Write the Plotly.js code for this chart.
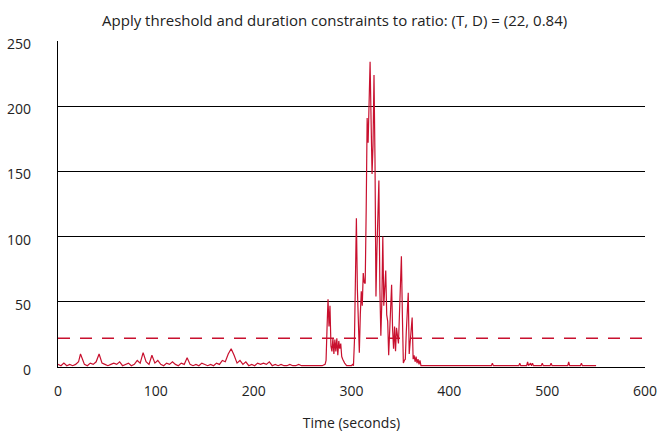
<!DOCTYPE html>
<html><head><meta charset="utf-8">
<script src="https://cdn.plot.ly/plotly-3.0.1.min.js"></script>
<style>html,body{margin:0;padding:0;background:#fff}</style>
</head><body><div id="chart" style="width:660px;height:432px"></div>
<script>
const chartTitle = "Apply threshold and duration constraints to ratio: (T, D) = (22, 0.84)";
const xTitle = "Time (seconds)";
const threshold = 22;
const xRange = [0, 600];
const yRange = [0, 250];
const xTicks = [0, 100, 200, 300, 400, 500, 600];
const yTicks = [0, 50, 100, 150, 200, 250];

const timeQuiet = [0,3,6,9,12,15,18,21,23,27,30,33,36,39,42,45,48,51,54,57,60,63,66,69,72,75,78,81,84,87,90,93,96,99,102,105,108,111,114,117,120,123,126,129,132,135,138,141,144,147,150,153,156,159,162,165,168,171,174,177,180,183,186,189,192,195,198,201,204,207,210,213,216,219,222,225,228,231,234,237,240,243,246,249,252,255,258,261,264,267,270,273];
const ratioQuiet = [2,1,3,1,2,1,2,4,10,2,1,3,2,4,10,3,2,1,2,3,2,4,1,2,3,1,2,5,3,11,4,2,9,3,5,2,1,3,2,4,2,1,3,2,7,2,1,2,1,3,2,1,2,1,3,2,5,4,10,14,9,3,5,2,4,1,2,1,3,2,3,2,4,1,2,1,2,1,1,2,1,1,2,1,1,1,1,1,1,1,1,2];

const timeActive = [274,275,276,277,278,279,280,281,282,283,284,285,286,287,288,289,290,291,292,293,294,295,296,297,298,299,300,301,302,303,304,305,306,307,308,309,310,311,312,313,314,315,316,317,318,319,320,321,322,323,324,325,326,327,328,329,330,331,332,333,334,335,336,337,338,339,340,341,342,343,344,345,346,347,348,349,350,351,352,353,354,355,356,357,358,359,360,361,362,363,364,365,366,367,368,369,370,371,372];
const ratioActive = [5,30,52,31,47,16,12,22,10,21,12,22,9,20,14,18,8,6,4,3,2,1,1,1,1,1,1,2,1,20,70,114,60,30,11,40,58,47,72,65,64,120,191,172,200,234,190,148,170,224,160,54,90,120,143,60,24,50,100,47,60,74,40,35,9,30,45,63,29,14,31,12,30,22,18,40,60,85,40,3,5,6,27,45,57,10,20,30,38,6,9,4,8,3,6,2,5,1,1];

const timeTail = [380,390,400,410,420,430,440,443,444,445,460,471,472,473,479,480,481,483,484,485,486,494,495,496,503,504,505,521,522,523,534,535,536,550];
const ratioTail = [1,1,1,1,1,1,1,1,3,1,1,1,3,1,1,4,1,3,1,3,1,1,3,1,1,3,1,1,4,1,1,3,1,1];

const times = timeQuiet.concat(timeActive, timeTail);
const ratio = ratioQuiet.concat(ratioActive, ratioTail);

const red = '#c8102e';
const font = "'Open Sans', sans-serif";

Plotly.newPlot('chart', [
  {x: times, y: ratio, type: 'scatter', mode: 'lines', line: {color: red, width: 1.2}, hoverinfo: 'skip'},
  {x: xRange, y: [threshold, threshold], type: 'scatter', mode: 'lines', line: {color: red, width: 1.5, dash: '12px,10px'}, hoverinfo: 'skip'}
], {
  width: 660, height: 432,
  margin: {l: 58, r: 15, t: 41, b: 65},
  showlegend: false,
  paper_bgcolor: '#fff', plot_bgcolor: '#fff',
  font: {family: font, size: 14, color: '#222'},
  title: {text: chartTitle, x: 0.507, xanchor: 'center', y: 0.953, yanchor: 'middle', font: {family: font, size: 15, color: '#222'}},
  xaxis: {range: xRange, tickvals: xTicks, showgrid: false, zeroline: false, showline: true, linecolor: '#000', linewidth: 1.2,
          ticks: '', ticklabelstandoff: 11, tickfont: {size: 14, color: '#222'},
          title: {text: xTitle, font: {size: 14, color: '#222'}, standoff: 22}},
  yaxis: {range: yRange, tickvals: yTicks, showgrid: true, gridcolor: '#000', gridwidth: 1, zeroline: false, showline: true, linecolor: '#000', linewidth: 1.2,
          ticks: '', ticklabelstandoff: 23, ticklabelshift: 3, tickfont: {size: 14, color: '#222'}}
}, {staticPlot: true});
</script></body></html>
